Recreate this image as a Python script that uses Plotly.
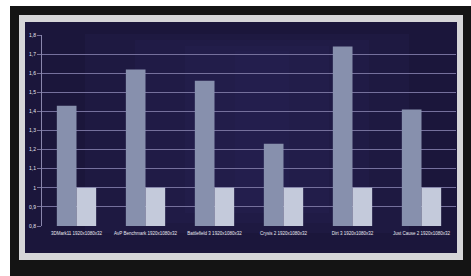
import plotly.graph_objects as go

categories = ["3DMark11 1920x1080x32", "AvP Benchmark 1920x1080x32", "Battlefield 3 1920x1080x32",
              "Crysis 2 1920x1080x32", "Dirt 3 1920x1080x32", "Just Cause 2 1920x1080x32"]
series_a = [1.43, 1.62, 1.56, 1.23, 1.74, 1.41]
series_b = [1.0, 1.0, 1.0, 1.0, 1.0, 1.0]
tick_vals = [0.8, 0.9, 1.0, 1.1, 1.2, 1.3, 1.4, 1.5, 1.6, 1.7, 1.8]
tick_text = ["0,8", "0,9", "1", "1,1", "1,2", "1,3", "1,4", "1,5", "1,6", "1,7", "1,8"]

W, H = 471, 276
L, R, T, B = 42, 15, 35, 50
pw, ph = W - L - R, H - T - B

def px(x):
    return (x - L) / pw

def py(y):
    return (H - B - y) / ph

fig = go.Figure()
fig.add_trace(go.Bar(x=categories, y=series_a, marker=dict(color="#8790ad", line=dict(width=0)),
                     showlegend=False, hoverinfo="skip"))
fig.add_trace(go.Bar(x=categories, y=series_b, marker=dict(color="#c4cadb", line=dict(width=0)),
                     showlegend=False, hoverinfo="skip"))

shapes = [
    dict(type="rect", xref="paper", yref="paper", x0=px(10), x1=px(471), y0=py(276), y1=py(6),
         fillcolor="#141414", line=dict(width=0), layer="below"),
    dict(type="rect", xref="paper", yref="paper", x0=px(19), x1=px(463), y0=py(260), y1=py(15),
         fillcolor="#d6d6d8", line=dict(width=0), layer="below"),
    dict(type="rect", xref="paper", yref="paper", x0=px(25), x1=px(457), y0=py(253), y1=py(22),
         fillcolor="#1b163b", line=dict(width=0), layer="below"),
]
for i, (a, b) in enumerate([(60, 40), (110, 60), (160, 80), (210, 95)]):
    shapes.append(dict(type="rect", xref="paper", yref="paper",
                       x0=px(25 + a), x1=px(457 - a * 0.8), y0=py(253 - b * 0.5), y1=py(22 + b * 0.3),
                       fillcolor="#2c2760", opacity=0.18, line=dict(width=0), layer="below"))

fig.update_layout(
    width=W, height=H,
    margin=dict(l=L, r=R, t=T, b=B, pad=0),
    paper_bgcolor="white",
    plot_bgcolor="rgba(0,0,0,0)",
    barmode="group",
    bargap=0.43,
    bargroupgap=0,
    shapes=shapes,
    font=dict(family="Liberation Sans", size=5, color="white"),
    xaxis=dict(showgrid=False, showline=False, ticks="", tickfont=dict(size=4.5, color="#e8e8f0"),
               tickangle=0, ticklabelstandoff=3),
    yaxis=dict(range=[0.8, 1.8], tickvals=tick_vals, ticktext=tick_text,
               showgrid=True, gridcolor="#75709c", gridwidth=1,
               showline=True, linecolor="#8a86ac", linewidth=1,
               ticks="outside", ticklen=4, tickcolor="#75709c",
               tickfont=dict(size=5, color="#e8e8f0"), zeroline=False),
)

fig.write_html("out.html", config={"displayModeBar": False},
               post_script="document.body.style.margin='0';")
